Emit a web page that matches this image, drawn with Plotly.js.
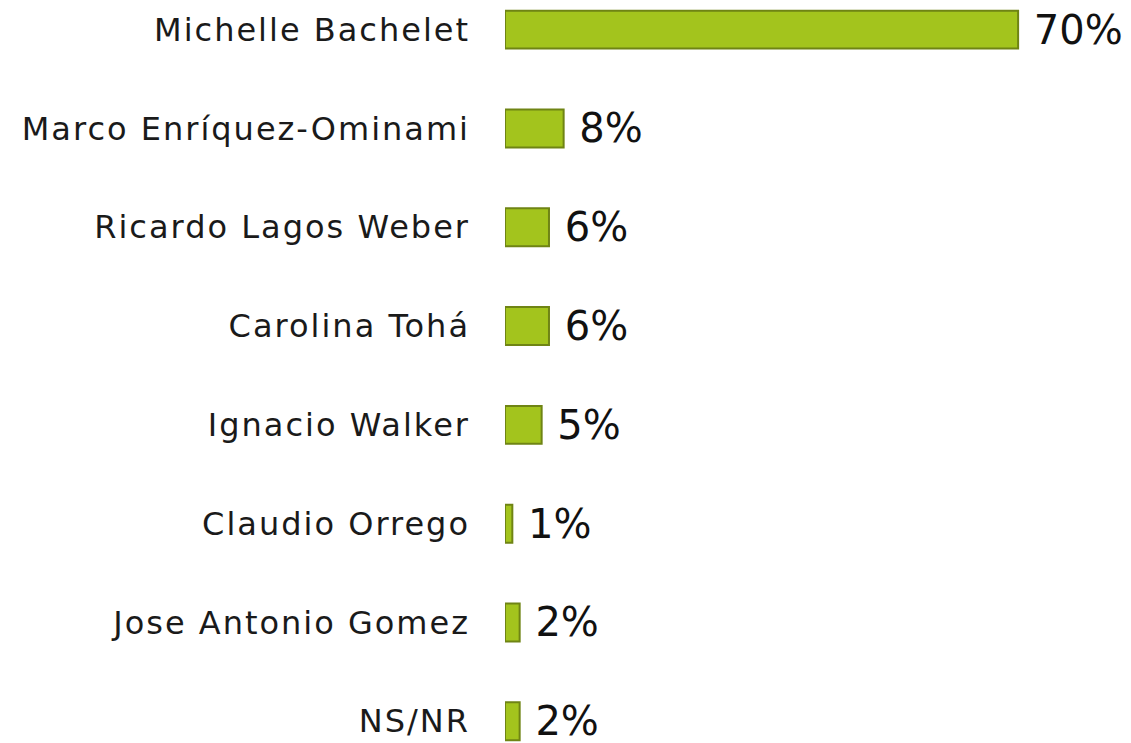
<!DOCTYPE html>
<html>
<head>
<meta charset="utf-8">
<script src="https://cdn.plot.ly/plotly-3.0.1.min.js"></script>
<style>html,body{margin:0;padding:0;background:#fff;}#chart{width:1131px;height:743px;}
#chart .ytick text{letter-spacing:2px;}</style>
</head>
<body>
<div id="chart"></div>
<script>
const candidates = ["Michelle Bachelet","Marco Enríquez-Ominami","Ricardo Lagos Weber","Carolina Tohá","Ignacio Walker","Claudio Orrego","Jose Antonio Gomez","NS/NR"];
const percentages = [70, 8, 6, 6, 5, 1, 2, 2];

const trace = {
  type: 'bar',
  orientation: 'h',
  y: candidates,
  x: percentages,
  texttemplate: ' %{x}%',
  textposition: 'outside',
  constraintext: 'none',
  cliponaxis: false,
  textfont: {family: '"DejaVu Sans", sans-serif', size: 40, color: '#111'},
  marker: {color: '#a3c41d', line: {color: '#6f8414', width: 2}},
  hoverinfo: 'none'
};

const layout = {
  width: 1131, height: 743,
  margin: {l: 505, r: 0, t: 0, b: 0},
  paper_bgcolor: '#ffffff', plot_bgcolor: '#ffffff',
  showlegend: false,
  bargap: 0.616,
  xaxis: {range: [0, 85.4], visible: false, fixedrange: true},
  yaxis: {
    type: 'category',
    range: [7.22, -0.30],
    showline: false, showgrid: false, zeroline: false, ticks: '',
    ticklabelstandoff: 34,
    tickfont: {family: '"DejaVu Sans", sans-serif', size: 32, color: '#1a1a1a'},
    fixedrange: true
  }
};

Plotly.newPlot('chart', [trace], layout, {displayModeBar: false, staticPlot: true});
</script>
</body>
</html>
